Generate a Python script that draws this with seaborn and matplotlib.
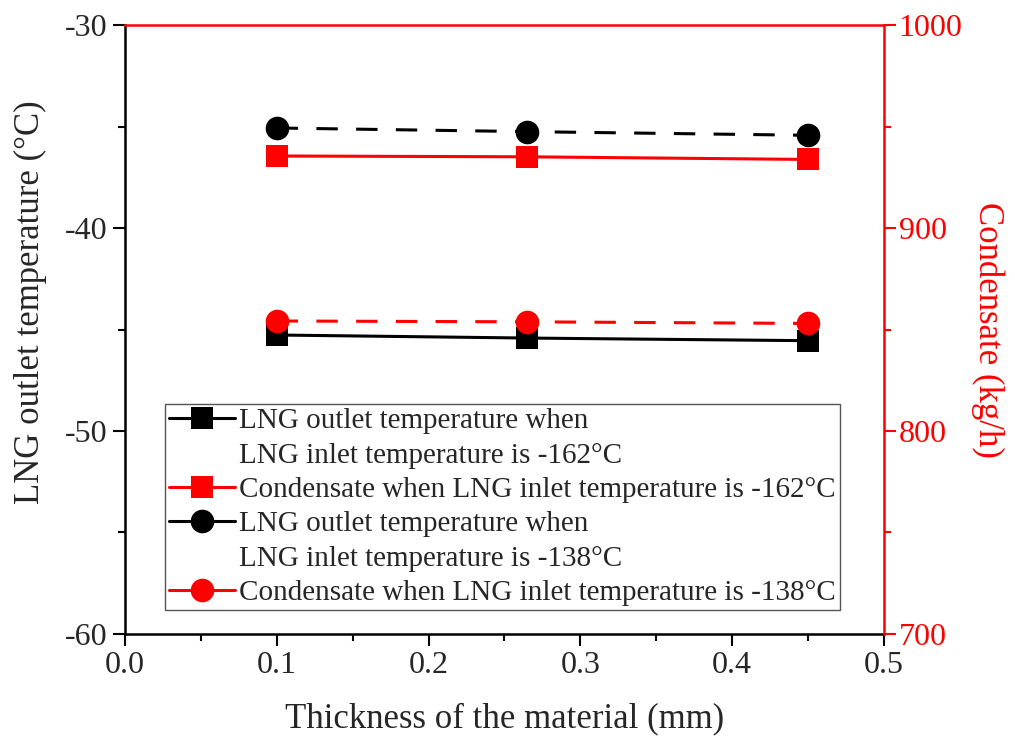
import numpy as np
import seaborn as sns
import pandas as pd
import matplotlib.pyplot as plt
from matplotlib.lines import Line2D
from matplotlib.ticker import MultipleLocator

thickness = [0.1, 0.265, 0.45]
outlet_162 = [-45.27, -45.42, -45.55]
outlet_138 = [-35.07, -35.25, -35.43]
condensate_162 = [935.5, 935.1, 933.8]
condensate_138 = [854.2, 853.8, 853.0]

# legend rows, continuation lines get an empty handle (Origin style)
legend_rows = ['LNG outlet temperature when',
               'LNG inlet temperature is -162°C',
               'Condensate when LNG inlet temperature is -162°C',
               'LNG outlet temperature when',
               'LNG inlet temperature is -138°C',
               'Condensate when LNG inlet temperature is -138°C']

df = pd.DataFrame({'thickness': thickness, 'outlet_162': outlet_162, 'outlet_138': outlet_138,
                   'condensate_162': condensate_162, 'condensate_138': condensate_138})

sns.set_style('ticks')
plt.rcParams['font.family'] = ['Liberation Serif', 'DejaVu Serif']
plt.rcParams['axes.unicode_minus'] = False

fig = plt.figure(figsize=(10.15, 7.42), dpi=100)
ax = fig.add_axes([0.123, 0.1456, 0.748, 0.8206])
ax2 = ax.twinx()

red = '#ff0000'
lw = 2.2
sq, ci = 15.5, 17
dash = (0, (7, 6))
sns.lineplot(data=df, x='thickness', y='outlet_162', ax=ax, color='black', lw=lw,
             marker='s', markersize=sq, markeredgewidth=0)
sns.lineplot(data=df, x='thickness', y='outlet_138', ax=ax, color='black', lw=lw, linestyle=dash,
             marker='o', markersize=ci, markeredgewidth=0)
sns.lineplot(data=df, x='thickness', y='condensate_162', ax=ax2, color=red, lw=lw,
             marker='s', markersize=sq, markeredgewidth=0)
sns.lineplot(data=df, x='thickness', y='condensate_138', ax=ax2, color=red, lw=lw, linestyle=dash,
             marker='o', markersize=ci, markeredgewidth=0)

ax.set_xlim(0, 0.5)
ax.set_ylim(-60, -30)
ax2.set_ylim(700, 1000)
ax.xaxis.set_major_locator(MultipleLocator(0.1))
ax.xaxis.set_minor_locator(MultipleLocator(0.05))
ax.yaxis.set_major_locator(MultipleLocator(10))
ax.yaxis.set_minor_locator(MultipleLocator(5))
ax2.yaxis.set_major_locator(MultipleLocator(100))
ax2.yaxis.set_minor_locator(MultipleLocator(50))
ax.xaxis.set_major_formatter(plt.FuncFormatter(lambda v, p: f'{v:.1f}'))

tick_fs = 23
ax.tick_params(axis='both', which='major', direction='out', length=8.5, width=1.5, labelsize=tick_fs,
               color='black', pad=4)
ax.tick_params(axis='both', which='minor', direction='out', length=5, width=1.5, color='black')
ax2.tick_params(axis='y', which='major', direction='out', length=8.5, width=1.5, labelsize=tick_fs,
                color=red, labelcolor=red, pad=2)
ax2.tick_params(axis='y', which='minor', direction='out', length=5, width=1.5, color=red)

for s in ['left', 'bottom']:
    ax.spines[s].set_linewidth(1.8)
    ax.spines[s].set_color('black')
ax.spines['top'].set_visible(False)
ax.spines['right'].set_visible(False)
ax2.spines['left'].set_visible(False)
ax2.spines['bottom'].set_visible(False)
ax2.spines['right'].set_color(red)
ax2.spines['top'].set_color(red)
ax2.spines['right'].set_linewidth(1.8)
ax2.spines['top'].set_linewidth(1.8)

ax.set_xlabel('Thickness of the material (mm)', fontsize=25, labelpad=16)
ax.set_ylabel('LNG outlet temperature (°C)', fontsize=25, labelpad=8)
ax.yaxis.set_label_coords(-0.103, 0.545)
ax2.set_ylabel('Condensate (kg/h)', fontsize=25, color=red, rotation=270, labelpad=30)

blank = Line2D([], [], color='none')
handles = [
    Line2D([], [], color='black', lw=lw, marker='s', markersize=sq, markeredgewidth=0),
    blank,
    Line2D([], [], color=red, lw=lw, marker='s', markersize=sq, markeredgewidth=0),
    Line2D([], [], color='black', lw=lw, marker='o', markersize=ci, markeredgewidth=0),
    blank,
    Line2D([], [], color=red, lw=lw, marker='o', markersize=ci, markeredgewidth=0),
]
leg = ax2.legend(handles, legend_rows, loc='lower left', bbox_to_anchor=(0.053, 0.039), fontsize=21,
                 frameon=True, fancybox=False, edgecolor='#555555', framealpha=1,
                 handlelength=2.25, handletextpad=0.12, labelspacing=0.27, borderpad=0.15,
                 borderaxespad=0, numpoints=1)
leg.get_frame().set_linewidth(1.0)

fig.savefig('out.png', dpi=100)
